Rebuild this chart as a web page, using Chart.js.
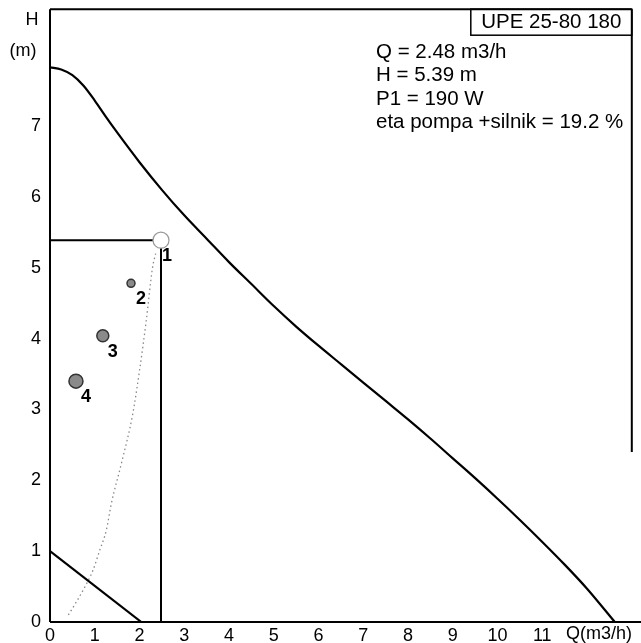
<!DOCTYPE html>
<html><head><meta charset="utf-8">
<script src="https://cdn.jsdelivr.net/npm/chart.js@4.4.1/dist/chart.umd.min.js"></script>
<style>html,body{margin:0;padding:0;background:#fff}canvas{display:block}</style>
</head><body>
<canvas id="c" width="641" height="643"></canvas>
<script>
// ---- data ----
const pumpQ = [0, 0.25, 0.5, 0.75, 1.0, 1.25, 1.5, 2.0, 2.5, 3.0, 3.5, 4.0, 4.5, 5.0, 5.5, 6.0, 6.5, 7.0, 7.5, 8.0, 8.5, 9.0, 9.5, 10.0, 10.5, 11.0, 11.5, 12.0, 12.62];
const pumpH = [7.83, 7.80, 7.72, 7.57, 7.36, 7.13, 6.91, 6.49, 6.10, 5.74, 5.41, 5.08, 4.77, 4.46, 4.17, 3.90, 3.64, 3.38, 3.12, 2.86, 2.59, 2.31, 2.03, 1.74, 1.44, 1.13, 0.81, 0.47, 0];
const minLineQ = [0, 2.04];
const minLineH = [1, 0];
const dutyQ = 2.48;
const dutyH = 5.39;
const sysQ = [0.41, 0.48, 0.74, 0.96, 1.11, 1.26, 1.37, 1.6, 1.85, 2.0, 2.15, 2.29, 2.36];
const sysH = [0.10, 0.17, 0.45, 0.73, 1.01, 1.30, 1.67, 2.25, 2.94, 3.55, 4.25, 5.00, 5.20];
const markQ = [1.81, 1.18, 0.58];
const markH = [4.78, 4.04, 3.40];
const markLabels = ['2', '3', '4'];
const dutyLabel = '1';
const xTicks = [0, 1, 2, 3, 4, 5, 6, 7, 8, 9, 10, 11];
const yTicks = [0, 1, 2, 3, 4, 5, 6, 7];
const xTitle = 'Q(m3/h)';
const yTitle1 = 'H';
const yTitle2 = '(m)';
const boxTitle = 'UPE 25-80 180';
const infoLines = ['Q = 2.48 m3/h', 'H = 5.39 m', 'P1 = 190 W', 'eta pompa +silnik = 19.2 %'];

const FONT = '"Liberation Sans", Arial, sans-serif';
const pts = (xs, ys) => xs.map((x, i) => ({x, y: ys[i]}));

const overlay = {
  id: 'overlay',
  afterDraw(chart) {
    const {ctx, chartArea: a, scales: {x, y}} = chart;
    ctx.save();
    ctx.strokeStyle = '#000';
    ctx.lineWidth = 2;
    ctx.beginPath();
    ctx.moveTo(a.left, a.top); ctx.lineTo(a.left, a.bottom);
    ctx.moveTo(a.left, a.bottom); ctx.lineTo(chart.width, a.bottom);
    ctx.moveTo(a.left, a.top); ctx.lineTo(a.right, a.top);
    ctx.moveTo(a.right, a.top); ctx.lineTo(a.right, y.getPixelForValue(2.4));
    ctx.stroke();
    ctx.lineWidth = 1.5;
    const bl = a.right - 161, bt = a.top, bh = 26;
    ctx.strokeRect(bl, bt, a.right - bl, bh);
    ctx.fillStyle = '#000';
    ctx.textBaseline = 'middle';
    ctx.textAlign = 'center';
    ctx.font = '20.5px ' + FONT;
    ctx.fillText(boxTitle, (bl + a.right) / 2, bt + 13);
    ctx.textAlign = 'left';
    ctx.font = '20.5px ' + FONT;
    infoLines.forEach((t, i) => ctx.fillText(t, 376, 52 + i * 23.5));
    ctx.font = '18px ' + FONT;
    ctx.textAlign = 'center';
    ctx.fillText(yTitle1, 32, 20);
    ctx.fillText(yTitle2, 23, 51);
    ctx.textAlign = 'left';
    ctx.fillText(xTitle, 566, 634);
    ctx.font = 'bold 18px ' + FONT;
    ctx.fillText(dutyLabel, x.getPixelForValue(dutyQ) + 1, y.getPixelForValue(dutyH) + 16);
    markLabels.forEach((t, i) => {
      ctx.fillText(t, x.getPixelForValue(markQ[i]) + 5, y.getPixelForValue(markH[i]) + 16);
    });
    ctx.restore();
  }
};

new Chart(document.getElementById('c'), {
  type: 'scatter',
  data: {
    datasets: [
      { data: [{x: dutyQ, y: dutyH}], pointRadius: 8, backgroundColor: '#fff', borderColor: '#999', borderWidth: 1.2, showLine: false },
      { data: pts(markQ, markH), pointRadius: [4, 6, 7], backgroundColor: '#8a8a8a', borderColor: '#333', borderWidth: 1.5, showLine: false },
      { data: pts(pumpQ, pumpH), showLine: true, borderColor: '#000', borderWidth: 2.2, pointRadius: 0, cubicInterpolationMode: 'monotone' },
      { data: pts(minLineQ, minLineH), showLine: true, borderColor: '#000', borderWidth: 2.2, pointRadius: 0 },
      { data: [{x: 0, y: dutyH}, {x: dutyQ, y: dutyH}, {x: dutyQ, y: 0}], showLine: true, borderColor: '#000', borderWidth: 2, pointRadius: 0 },
      { data: pts(sysQ, sysH), showLine: true, borderColor: '#888', borderWidth: 1.3, borderDash: [1.5, 3], pointRadius: 0, cubicInterpolationMode: 'monotone' }
    ]
  },
  options: {
    responsive: false,
    devicePixelRatio: 1,
    animation: false,
    layout: { padding: { top: 8, right: 6, left: 0, bottom: 0 } },
    plugins: { legend: { display: false }, tooltip: { enabled: false } },
    scales: {
      x: {
        type: 'linear', min: 0, max: 13,
        grid: { display: false, drawTicks: false },
        border: { display: false },
        afterBuildTicks: s => { s.ticks = xTicks.map(v => ({value: v})); },
        afterFit: s => { s.height = 21; s.paddingLeft = 0; s.paddingRight = 0; },
        ticks: { color: '#000', padding: 3, maxRotation: 0, autoSkip: false, font: { size: 18, family: FONT }, callback: v => String(v) }
      },
      y: {
        type: 'linear', min: 0, max: 8.65,
        grid: { display: false, drawTicks: false },
        border: { display: false },
        afterBuildTicks: s => { s.ticks = yTicks.map(v => ({value: v})); },
        afterFit: s => { s.width = 50; s.paddingTop = 0; s.paddingBottom = 0; },
        ticks: { color: '#000', padding: 9, autoSkip: false, font: { size: 18, family: FONT }, callback: v => String(v) }
      }
    }
  },
  plugins: [overlay]
});
</script>
</body></html>
